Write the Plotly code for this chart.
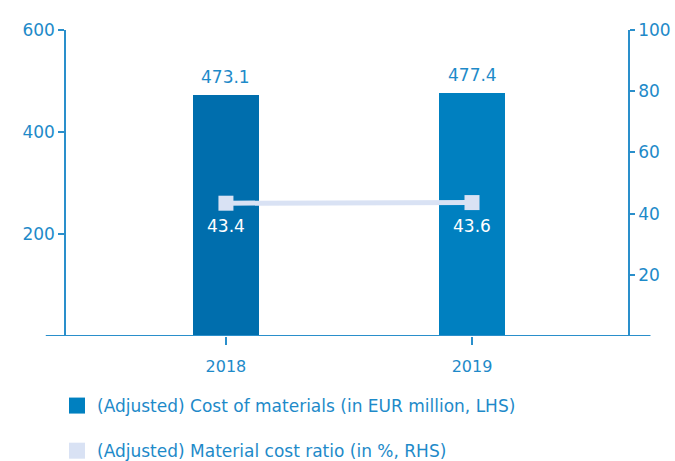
import plotly.graph_objects as go

years = ["2018", "2019"]
cost_of_materials = [473.1, 477.4]      # EUR million, LHS
material_cost_ratio = [43.4, 43.6]      # %, RHS
left_ticks = [200, 400, 600]
right_ticks = [20, 40, 60, 80, 100]

BLUE_TEXT = "#1E8AC9"
AXIS = "#2A8FCB"
BAR_COLORS = ["#006EAD", "#0080C0"]
RATIO = "#D9E2F4"
FONT = "DejaVu Sans, Noto Sans, sans-serif"

fig = go.Figure()

fig.add_trace(go.Bar(
    x=years, y=cost_of_materials, width=0.27,
    marker=dict(color=BAR_COLORS, line=dict(width=0)),
    showlegend=False,
))

fig.add_trace(go.Scatter(
    x=years, y=material_cost_ratio, yaxis="y2", mode="lines+markers",
    line=dict(color=RATIO, width=5),
    marker=dict(symbol="square", size=15, color=RATIO),
    showlegend=False,
))

# value labels (x given as category index)
for i, v in enumerate(cost_of_materials):
    fig.add_annotation(x=i, y=v, xref="x", yref="y", text=f"{v:.1f}", showarrow=False,
                       yanchor="bottom", yshift=6, font=dict(color=BLUE_TEXT, size=17))
for i, v in enumerate(material_cost_ratio):
    fig.add_annotation(x=i, y=v, xref="x", yref="y2", text=f"{v:.1f}", showarrow=False,
                       yanchor="middle", yshift=-23, font=dict(color="white", size=17))

# legend entries (square swatches)
fig.add_trace(go.Scatter(
    x=[None], y=[None], mode="markers", legendgroup="a",
    name="(Adjusted) Cost of materials (in EUR million, LHS)",
    marker=dict(symbol="square", size=18, color=BAR_COLORS[1]),
))
fig.add_trace(go.Scatter(
    x=[None], y=[None], mode="markers", legendgroup="b",
    name="(Adjusted) Material cost ratio (in %, RHS)",
    marker=dict(symbol="square", size=18, color=RATIO),
))

# baseline extends a little beyond both axes
fig.add_shape(type="line", xref="paper", yref="y", x0=-0.036, x1=1.04, y0=0, y1=0,
              line=dict(color=AXIS, width=2))

fig.update_layout(
    width=675, height=461,
    margin=dict(l=66, r=47, t=30, b=125, autoexpand=False),
    plot_bgcolor="white", paper_bgcolor="white",
    font=dict(family=FONT, color=BLUE_TEXT, size=17),
    xaxis=dict(type="category", range=[-0.65, 1.634], showgrid=False, showline=False,
               zeroline=False, ticks="outside", ticklen=8, tickcolor=AXIS, tickwidth=1.5,
               ticklabelstandoff=8, tickfont=dict(size=16, color=BLUE_TEXT)),
    yaxis=dict(range=[0, 600], tickvals=left_ticks, showgrid=False, zeroline=False,
               showline=True, linecolor=AXIS, linewidth=1.5,
               ticks="outside", ticklen=6, tickcolor=AXIS, tickwidth=1.5,
               tickfont=dict(size=17, color=BLUE_TEXT)),
    yaxis2=dict(range=[0, 100], tickvals=right_ticks, overlaying="y", side="right",
                showgrid=False, zeroline=False, showline=True, linecolor=AXIS, linewidth=1.5,
                ticks="outside", ticklen=5, tickcolor=AXIS, tickwidth=1.5,
                tickfont=dict(size=17, color=BLUE_TEXT)),
    legend=dict(x=-0.016, xanchor="left", y=-0.17, yanchor="top", orientation="v",
                font=dict(size=17, color=BLUE_TEXT), tracegroupgap=20,
                itemsizing="trace", bgcolor="rgba(0,0,0,0)"),
    bargap=0,
)

# drop the default page margin so the figure fills the 675x461 window
fig.write_html("out.html", config={"displayModeBar": False},
               post_script="document.body.style.margin='0';")
